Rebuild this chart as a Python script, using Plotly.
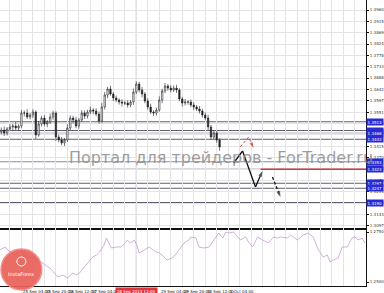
import plotly.graph_objects as go

# ---------------- data ----------------
bars = list(range(1, 78))  # H2 bars
close = [1.3480, 1.3468, 1.3484, 1.3492, 1.3496, 1.3488, 1.3496, 1.3548, 1.3548, 1.3532,
         1.3540, 1.3552, 1.3460, 1.3504, 1.3528, 1.3504, 1.3512, 1.3532, 1.3548, 1.3452,
         1.3440, 1.3428, 1.3440, 1.3488, 1.3528, 1.3520, 1.3496, 1.3520, 1.3548, 1.3536,
         1.3552, 1.3560, 1.3556, 1.3544, 1.3516, 1.3572, 1.3620, 1.3644, 1.3624, 1.3608,
         1.3600, 1.3592, 1.3588, 1.3588, 1.3580, 1.3592, 1.3632, 1.3664, 1.3640, 1.3624,
         1.3596, 1.3572, 1.3552, 1.3548, 1.3560, 1.3600, 1.3636, 1.3656, 1.3648, 1.3640,
         1.3648, 1.3640, 1.3604, 1.3588, 1.3592, 1.3592, 1.3580, 1.3572, 1.3564, 1.3556,
         1.3540, 1.3528, 1.3492, 1.3452, 1.3468, 1.3440, 1.3412]
first_open = 1.3472
wick_up_pips = [10, 14, 8, 12, 9, 16, 7, 12, 10, 15, 8,
                11, 6, 13, 9, 12, 8, 14, 10, 7, 9, 12,
                8, 15, 11, 9, 13, 8, 12, 10, 9, 14, 7,
                11, 10, 16, 12, 9, 13, 8, 10, 7, 11, 9,
                12, 8, 14, 10, 9, 12, 8, 11, 13, 7, 10,
                15, 9, 12, 8, 11, 10, 13, 8, 9, 12, 7,
                10, 11, 8, 12, 9, 10, 13, 8, 11, 9, 7]
wick_dn_pips = [9, 12, 10, 7, 13, 8, 11, 9, 14, 8, 10,
                12, 15, 7, 10, 9, 13, 8, 11, 16, 10, 9,
                12, 8, 10, 14, 9, 11, 7, 12, 10, 8, 13,
                9, 11, 8, 10, 13, 7, 12, 9, 10, 14, 8,
                11, 9, 12, 8, 10, 13, 9, 11, 8, 12, 10,
                7, 13, 9, 11, 10, 8, 12, 9, 14, 10, 11,
                9, 12, 8, 10, 11, 9, 13, 10, 8, 12, 15]

# second instrument (lower pane)
lower_bars = [0.5, 2.3, 4.0, 5.7, 7.5, 9.2, 10.9, 12.7, 14.4, 15.4, 16.8, 17.9, 19.2, 20.6,
              22.4, 24.1, 25.8, 27.2, 28.2, 29.6, 30.7, 31.7, 32.8, 34.1, 35.2, 36.6, 37.6,
              38.6, 39.3, 41.1, 42.8, 43.8, 44.9, 45.9, 47.3, 48.3, 49.0, 50.8, 52.5, 53.9,
              54.9, 56.0, 57.0, 58.7, 60.5, 61.8, 62.9, 64.6, 66.3, 67.0, 68.8, 69.8, 71.5,
              73.3, 74.3, 75.7, 76.7, 78.1, 79.2, 80.5, 81.9, 83.0, 84.3, 86.1, 87.1, 88.5,
              90.2, 92.0, 94.0, 95.8, 97.2, 98.2, 100.6, 101.7, 103.0, 104.1, 106.2, 107.9,
              109.6, 111.4, 113.1, 114.5, 115.5, 116.6, 118.3, 119.7, 121.4, 123.1, 124.2,
              125.2, 126.6, 127.6]
lower_vals = [1.2660, 1.2675, 1.2650, 1.2635, 1.2660, 1.2630, 1.2620, 1.2625, 1.2600, 1.2595,
              1.2580, 1.2570, 1.2550, 1.2525, 1.2535, 1.2520, 1.2545, 1.2535, 1.2545, 1.2570,
              1.2585, 1.2605, 1.2625, 1.2635, 1.2650, 1.2680, 1.2720, 1.2690, 1.2670, 1.2675,
              1.2675, 1.2690, 1.2710, 1.2695, 1.2710, 1.2680, 1.2645, 1.2660, 1.2675, 1.2660,
              1.2650, 1.2645, 1.2635, 1.2610, 1.2620, 1.2640, 1.2660, 1.2695, 1.2710, 1.2725,
              1.2720, 1.2675, 1.2670, 1.2675, 1.2695, 1.2725, 1.2745, 1.2720, 1.2750, 1.2745,
              1.2750, 1.2730, 1.2710, 1.2725, 1.2700, 1.2675, 1.2725, 1.2710, 1.2695, 1.2725,
              1.2720, 1.2725, 1.2720, 1.2735, 1.2720, 1.2710, 1.2735, 1.2745, 1.2725, 1.2660,
              1.2625, 1.2635, 1.2600, 1.2610, 1.2620, 1.2675, 1.2675, 1.2720, 1.2725, 1.2710,
              1.2720, 1.2695]

main_tick_labels = ["1.3960", "1.3915", "1.3869", "1.3824", "1.3778", "1.3733", "1.3688",
                    "1.3642", "1.3597", "1.3551", "1.3506", "1.3461", "1.3415", "1.3370",
                    "1.3324", "1.3279", "1.3234", "1.3188", "1.3143", "1.3097"]
lower_tick_labels = ["1.2750", "1.2500"]

time_tick_bars = [0, 8, 16, 24, 32, 40, 56, 64, 72, 80]
time_tick_labels = ["24 Sep 12:00", "25 Sep 04:00", "25 Sep 20:00", "26 Sep 12:00",
                    "27 Sep 04:00", "27 Sep 20:00", "29 Sep 04:00", "29 Sep 20:00",
                    "30 Sep 12:00", "1 Oct 04:00"]
vline_bar = 48
vline_label = "28 Sep 2014 12:00"

levels = [1.3513, 1.3478, 1.3468, 1.3443, 1.3353, 1.3323, 1.3267, 1.3247, 1.3190]
level_colors = ["#5f5f70", "#5f5f70", "#b4b4c4", "#5f5f70", "#8c8c9c", "#5f5f70",
                "#5f5f70", "#5f5f70", "#5f5f70"]
red_level = 1.3323
red_level_start = 91.3

# forecast arrows (bar, price)
red_arrow_bars = [84.2, 87.1, 88.8]
red_arrow_prices = [1.3412, 1.3452, 1.3408]
black_arrow_bars = [81.9, 85.0, 89.5, 91.9]
black_arrow_prices = [1.3348, 1.3396, 1.3252, 1.3316]
dash_arrow_bars = [95.4, 98.2]
dash_arrow_prices = [1.3292, 1.3212]

# ---------------- figure ----------------
opens = [first_open] + close[:-1]
highs = [max(o, c) + w * 0.0001 for o, c, w in zip(opens, close, wick_up_pips)]
lows = [min(o, c) - w * 0.0001 for o, c, w in zip(opens, close, wick_dn_pips)]

W, H = 384, 293
ML, MR, MT, MB = 0, 16, 0, 7
split = 58 / 286.0  # lower pane share

fig = go.Figure()
fig.add_trace(go.Candlestick(
    x=bars, open=opens, high=highs, low=lows, close=close,
    increasing=dict(line=dict(color="#222222", width=0.6), fillcolor="#ffffff"),
    decreasing=dict(line=dict(color="#222222", width=0.6), fillcolor="#222222"),
    whiskerwidth=0, xaxis="x", yaxis="y", hoverinfo="skip"))

fig.add_trace(go.Scatter(x=lower_bars, y=lower_vals, mode="lines",
                         line=dict(color="#c99ad0", width=0.8),
                         xaxis="x2", yaxis="y2", hoverinfo="skip"))


def arrow(xs, ys, color, dash, width):
    n = len(xs)
    fig.add_trace(go.Scatter(
        x=xs, y=ys, mode="lines+markers",
        line=dict(color=color, width=width, dash=dash),
        marker=dict(symbol="arrow", size=[0] * (n - 1) + [6], color=color,
                    angleref="previous", line=dict(width=0)),
        xaxis="x", yaxis="y", hoverinfo="skip"))


arrow(red_arrow_bars, red_arrow_prices, "#d54848", "3px,2px", 1)
arrow(black_arrow_bars, black_arrow_prices, "#111111", "solid", 1.3)
arrow(dash_arrow_bars, dash_arrow_prices, "#111111", "3px,2px", 1.3)

shapes = []
for lv, col in zip(levels, level_colors):
    shapes.append(dict(type="line", xref="paper", x0=0, x1=1, yref="y", y0=lv, y1=lv,
                       line=dict(color=col, width=1), layer="below"))
shapes.append(dict(type="line", xref="x", x0=red_level_start, x1=128, yref="y",
                   y0=red_level, y1=red_level, line=dict(color="#d83a3a", width=1.3)))
shapes.append(dict(type="line", xref="x", x0=vline_bar, x1=vline_bar, yref="paper",
                   y0=0, y1=1, line=dict(color="#c99272", width=1), layer="below"))
# logo badge
shapes.append(dict(type="circle", xref="paper", yref="paper",
                   x0=1 / 368, x1=42 / 368, y0=-4 / 286, y1=37 / 286,
                   fillcolor="#ea5f58", line=dict(color="#f08a84", width=1.5), opacity=0.92))
shapes.append(dict(type="circle", xref="paper", yref="paper",
                   x0=17 / 368, x1=26 / 368, y0=20 / 286, y1=29 / 286,
                   fillcolor="rgba(0,0,0,0)", line=dict(color="white", width=1)))

ann = []
for b, t in zip(time_tick_bars, time_tick_labels):
    ann.append(dict(x=b, xref="x2", y=0, yref="paper", text=t, showarrow=False,
                    xanchor="left", yanchor="top", yshift=-1,
                    font=dict(size=4, color="#222222", family="DejaVu Sans")))
ann.append(dict(x=vline_bar, xref="x2", y=0, yref="paper", text=vline_label,
                showarrow=False, xanchor="center", yanchor="top", yshift=-1,
                bgcolor="#e2333b", borderpad=1,
                font=dict(size=4, color="white", family="DejaVu Sans")))
for lv in levels:
    ann.append(dict(x=1, xref="paper", y=lv, yref="y", text="%.4f" % lv, showarrow=False,
                    xanchor="left", yanchor="middle", bgcolor="#2a2ad2", borderpad=0.6,
                    font=dict(size=4, color="white", family="DejaVu Sans")))
ann.append(dict(x=67 / 368, xref="paper", y=(286 - 157) / 286, yref="paper",
                text="Портал для трейдеров - ForTrader.ru", showarrow=False,
                xanchor="left", yanchor="middle",
                font=dict(size=16, color="rgba(140,140,140,0.85)", family="DejaVu Sans")))
ann.append(dict(x=21.5 / 368, xref="paper", y=12 / 286, yref="paper", text="InstaForex",
                showarrow=False, xanchor="center", yanchor="middle",
                font=dict(size=5, color="white", family="DejaVu Sans")))

main_tick_vals = [float(s) for s in main_tick_labels]
lower_tick_vals = [float(s) for s in lower_tick_labels]

xr = [0.537, 0.537 + 368 / 2.8875]
grid = "#e3e3e8"
fig.update_layout(
    width=W, height=H, margin=dict(l=ML, r=MR, t=MT, b=MB),
    paper_bgcolor="white", plot_bgcolor="white", showlegend=False, hovermode=False,
    shapes=shapes, annotations=ann,
    xaxis=dict(domain=[0, 1], range=xr, anchor="y", tick0=0, dtick=4, showgrid=True,
               gridcolor=grid, gridwidth=1, showticklabels=False, ticks="",
               showline=True, linecolor="#111111", linewidth=2, zeroline=False,
               rangeslider=dict(visible=False), fixedrange=True),
    xaxis2=dict(domain=[0, 1], matches="x", anchor="y2", tick0=0, dtick=4, showgrid=True,
                gridcolor=grid, gridwidth=1, showticklabels=False, ticks="",
                showline=True, linecolor="#111111", linewidth=1, zeroline=False),
    yaxis=dict(domain=[split, 1], range=[1.4 - 0.0004 * 228, 1.4], side="right",
               anchor="x", tickvals=main_tick_vals, ticktext=main_tick_labels,
               showgrid=True, gridcolor=grid, gridwidth=1, ticks="outside", ticklen=2,
               tickcolor="#111111", showline=True, linecolor="#111111", linewidth=1,
               tickfont=dict(size=4, color="#333333", family="DejaVu Sans"),
               zeroline=False),
    yaxis2=dict(domain=[0, split], range=[1.2480, 1.2770], side="right", anchor="x2",
                tickvals=lower_tick_vals, ticktext=lower_tick_labels, showgrid=False,
                ticks="outside", ticklen=2, tickcolor="#111111", showline=True,
                linecolor="#111111", linewidth=1,
                tickfont=dict(size=4, color="#333333", family="DejaVu Sans"),
                zeroline=False),
)

fig.write_html("out.html")
